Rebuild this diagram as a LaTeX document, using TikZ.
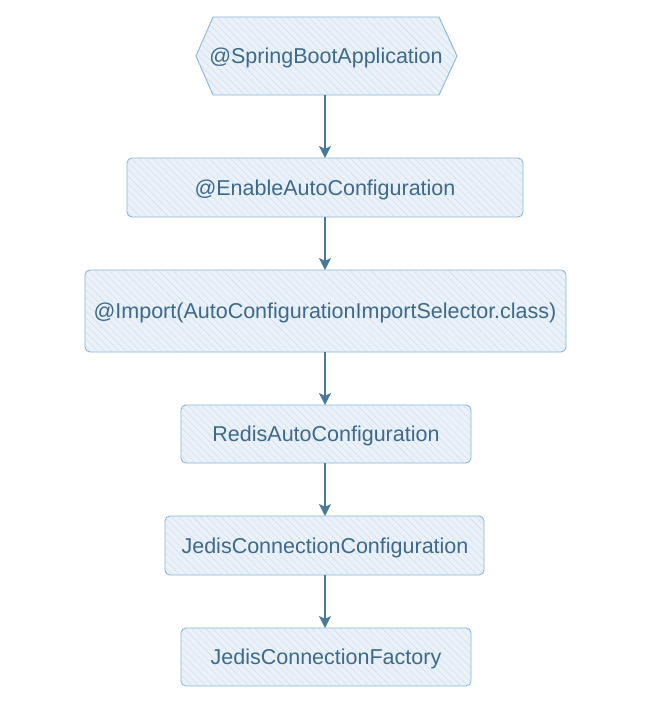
\documentclass[tikz,border=0pt]{standalone}
\usepackage{fontspec}
\setmainfont{Liberation Sans}
\usetikzlibrary{patterns.meta,arrows.meta}
\definecolor{bfill}{HTML}{EAF1F8}
\definecolor{bdraw}{HTML}{86B4D8}
\definecolor{hatch}{HTML}{CCDBE9}
\definecolor{txt}{HTML}{3D6A8A}
\definecolor{arr}{HTML}{4A7898}
\tikzset{
  hatchfill/.style={fill=bfill, postaction={pattern={Lines[angle=-45,distance=5pt,line width=0.4pt]}, pattern color=hatch}},
  flowbox/.style={hatchfill, draw=bdraw, line width=0.9pt, rounded corners=5pt},
  lbl/.style={text=txt, font=\fontsize{21.5}{24}\selectfont, inner sep=0pt},
  flow/.style={draw=arr, line width=1.8pt, -{Stealth[length=12pt,width=12pt,inset=3pt]}}
}
\begin{document}
\begin{tikzpicture}[x=1pt,y=-1pt]
\useasboundingbox (0,0) rectangle (655,720);
% hexagon
\draw[hatchfill, draw=bdraw, line width=0.9pt] (196,56) -- (213,17) -- (439,17) -- (457,56) -- (439,95) -- (213,95) -- cycle;
\node[lbl] (n1) at (326,58) {@SpringBootApplication};
\coordinate (h1) at (325,95);
\draw[flowbox] (127,158) rectangle (523,217);
\node[lbl] (n2) at (325,190) {@EnableAutoConfiguration};
\coordinate (t2) at (325,158); \coordinate (b2) at (325,217);
\draw[flowbox] (85,270) rectangle (566,352);
\node[lbl] (n3) at (325,313) {@Import(AutoConfigurationImportSelector.class)};
\coordinate (t3) at (325,270); \coordinate (b3) at (325,352);
\draw[flowbox] (181,405) rectangle (471,463);
\node[lbl] (n4) at (326,436) {RedisAutoConfiguration};
\coordinate (t4) at (325,405); \coordinate (b4) at (325,463);
\draw[flowbox] (165,516) rectangle (484,575);
\node[lbl] (n5) at (325,548) {JedisConnectionConfiguration};
\coordinate (t5) at (325,516); \coordinate (b5) at (325,575);
\draw[flowbox] (181,628) rectangle (471,686);
\node[lbl] (n6) at (326,659) {JedisConnectionFactory};
\coordinate (t6) at (325,628);
\draw[flow] (h1) -- (t2);
\draw[flow] (b2) -- (t3);
\draw[flow] (b3) -- (t4);
\draw[flow] (b4) -- (t5);
\draw[flow] (b5) -- (t6);
\end{tikzpicture}
\end{document}
